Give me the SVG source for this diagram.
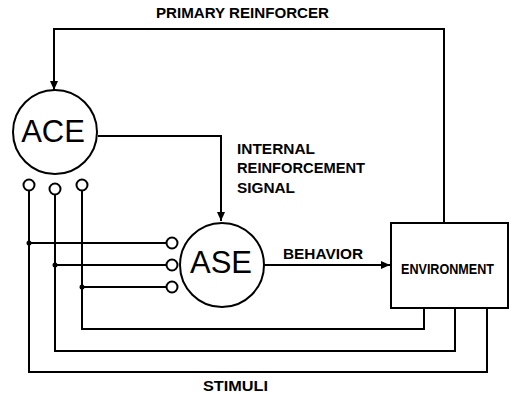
<svg xmlns="http://www.w3.org/2000/svg" width="513" height="394" viewBox="0 0 513 394">
<defs>
<marker id="arr" markerWidth="10" markerHeight="10" refX="9" refY="5" orient="auto" markerUnits="userSpaceOnUse">
<path d="M0,1 L9,5 L0,9 Z" fill="#000"/>
</marker>
<style>
.ln{fill:none;stroke:#000;stroke-width:2}
.c{fill:#fff;stroke:#000;stroke-width:2}
.big{font-family:"Liberation Sans",Arial,sans-serif;font-size:31px;text-anchor:middle}
.lbl{font-family:"Liberation Sans",Arial,sans-serif;font-weight:bold;font-size:14px}
</style>
</defs>
<rect width="513" height="394" fill="#fff"/>
<g id="connectors">
<path class="ln" d="M444,223 V29 H54 V90" marker-end="url(#arr)"/>
<path class="ln" d="M98,136 H221 V221" marker-end="url(#arr)"/>
<path class="ln" d="M264,265 H390" marker-end="url(#arr)"/>
<path class="ln" d="M424,308 V329 H82 V190"/>
<path class="ln" d="M455,308 V351 H55 V194"/>
<path class="ln" d="M487,308 V372 H29 V190"/>
<path class="ln" d="M29,243 H166"/>
<path class="ln" d="M55,265 H166"/>
<path class="ln" d="M82,287 H166"/>
<circle cx="29" cy="243" r="2.5" fill="#000"/>
<circle cx="55" cy="265" r="2.5" fill="#000"/>
<circle cx="82" cy="287" r="2.5" fill="#000"/>
</g>
<g id="ACE">
<circle class="c" cx="55" cy="132" r="42"/>
<text class="big" x="53" y="142">ACE</text>
<circle class="c" cx="29" cy="185" r="5.5"/>
<circle class="c" cx="55" cy="189" r="5.5"/>
<circle class="c" cx="82" cy="185" r="5.5"/>
</g>
<g id="ASE">
<circle class="c" cx="222" cy="265" r="42"/>
<text class="big" x="221" y="273">ASE</text>
<circle class="c" cx="172" cy="243" r="5.5"/>
<circle class="c" cx="172" cy="265" r="5.5"/>
<circle class="c" cx="172" cy="287" r="5.5"/>
</g>
<g id="ENVIRONMENT">
<rect class="ln" x="391" y="223" width="117" height="85"/>
<text class="lbl" x="401" y="274" font-size="12" textLength="93" lengthAdjust="spacingAndGlyphs">ENVIRONMENT</text>
</g>
<g id="labels">
<text class="lbl" x="156" y="18" textLength="173" lengthAdjust="spacingAndGlyphs">PRIMARY REINFORCER</text>
<text class="lbl" x="237" y="154" textLength="78" lengthAdjust="spacingAndGlyphs">INTERNAL</text>
<text class="lbl" x="237" y="173" textLength="128" lengthAdjust="spacingAndGlyphs">REINFORCEMENT</text>
<text class="lbl" x="237" y="193" textLength="58" lengthAdjust="spacingAndGlyphs">SIGNAL</text>
<text class="lbl" x="283" y="259" textLength="80" lengthAdjust="spacingAndGlyphs">BEHAVIOR</text>
<text class="lbl" x="203" y="391" textLength="65" lengthAdjust="spacingAndGlyphs">STIMULI</text>
</g>
</svg>
